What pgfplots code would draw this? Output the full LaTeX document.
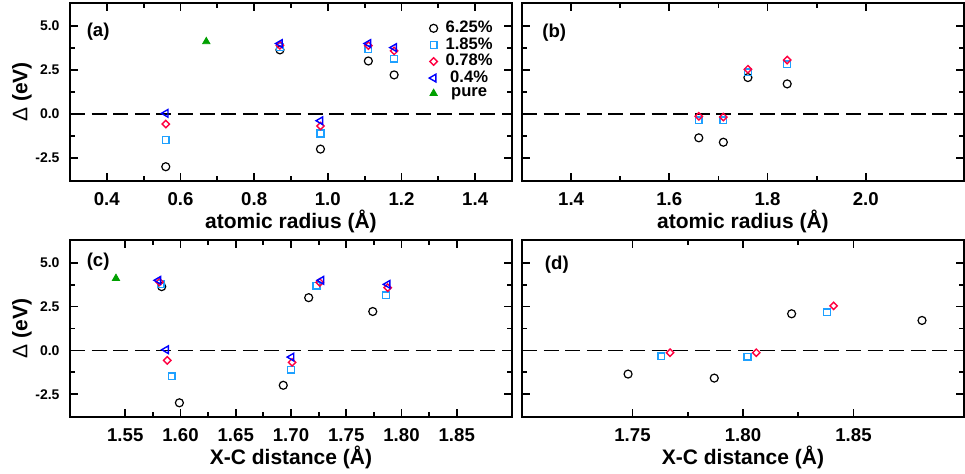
\documentclass[border=0pt]{standalone}
\usepackage{fontspec}
\setmainfont{Liberation Sans}
\usepackage{pgfplots}
\pgfplotsset{compat=1.18}

\definecolor{c185}{RGB}{30,160,255}
\definecolor{c078}{RGB}{255,0,64}
\definecolor{c04}{RGB}{0,0,255}
\definecolor{cpure}{RGB}{0,160,0}

\tikzset{plab/.style={anchor=base west, font=\bfseries\fontsize{9.3}{10}\selectfont}}

\pgfplotsset{
  panel/.style={
    scale only axis, width=221pt, height=89pt,
    axis line style={line width=1pt},
    tick style={black, line width=0.9pt},
    major tick length=4pt, minor tick length=2.5pt,
    tick align=inside,
    ymin=-3.8, ymax=6.3,
    ytick={-2.5,0,2.5,5}, minor y tick num=1,
    /pgf/number format/assume math mode=true,
    /pgf/number format/fixed,
    /pgf/number format/fixed zerofill,
    /pgf/number format/precision=1,
    yticklabel style={font=\bfseries\fontsize{7}{8}\selectfont, xshift=-1.7pt},
    xticklabel style={font=\bfseries\fontsize{9.3}{10}\selectfont, yshift=-2.4pt},
    xlabel style={font=\bfseries\fontsize{10.5}{12}\selectfont,
      at={(axis description cs:0.5,0)}, anchor=base, yshift=-23.5pt},
    ylabel style={font=\bfseries\fontsize{10.5}{12}\selectfont,
      at={(axis description cs:-0.1086,0.5)}, anchor=center},
    legend image code/.code={\draw[mark repeat=2,mark phase=2,#1]
      plot coordinates {(0cm,0cm) (0.15cm,0cm) (0.3cm,0cm)};},
  },
  zero/.style={black, line width=0.9pt, dash pattern=on 7.5pt off 3.3pt, forget plot},
  s625/.style={only marks, mark=o, mark size=2pt, black, line width=0.6pt},
  s185/.style={only marks, mark=square, mark size=1.7pt, c185, line width=0.7pt},
  s078/.style={only marks, mark=square, mark size=1.3pt, c078, line width=0.7pt,
    mark options={rotate=45}},
  s04/.style={only marks, mark=triangle, mark size=2.2pt, c04, line width=0.7pt,
    mark options={rotate=90}},
  spure/.style={only marks, mark=triangle*, mark size=2.1pt, cpure},
}

\begin{document}
\begin{tikzpicture}
\useasboundingbox (0,0) rectangle (482.5pt,236.5pt);

% (a) atomic radius, first group
\begin{axis}[panel, at={(35pt,146pt)}, anchor=south west,
    xmin=0.3, xmax=1.5, xtick={0.4,0.6,...,1.4}, minor x tick num=1,
    xlabel={atomic radius (Å)}, ylabel={{\mdseries Δ} (eV)},
    legend style={draw=none, fill=none, at={(0.964,0.918)}, anchor=north east,
      font=\bfseries\fontsize{8.3}{9}\selectfont, row sep=0pt, column sep=3.5pt,
      inner sep=1pt, nodes={inner sep=0.5pt}}]
\addplot[zero] coordinates {(0.3,0) (1.5,0)};
\addplot[s625] coordinates {(0.56,-2.99) (0.87,3.64) (0.98,-1.99) (1.11,3.01) (1.18,2.22)};
\addplot[s185] coordinates {(0.56,-1.48) (0.87,3.80) (0.98,-1.10) (1.11,3.69) (1.18,3.14)};
\addplot[s078] coordinates {(0.56,-0.57) (0.87,3.90) (0.98,-0.68) (1.11,3.88) (1.18,3.58)};
\addplot[s04] coordinates {(0.56,0.04) (0.87,4.00) (0.98,-0.38) (1.11,4.00) (1.18,3.77)};
\addplot[spure] coordinates {(0.67,4.11)};
\legend{6.25\%, 1.85\%, 0.78\%, 0.4\%, pure}
\node[plab] at (rel axis cs:0.022,0.81) {(a)};
\end{axis}

% (b) atomic radius, second group
\begin{axis}[panel, at={(261pt,146pt)}, anchor=south west,
    xmin=1.3, xmax=2.2, xtick={1.4,1.6,...,2.0}, minor x tick num=1,
    yticklabels={}, xlabel={atomic radius (Å)}]
\addplot[zero] coordinates {(1.3,0) (2.2,0)};
\addplot[s625] coordinates {(1.66,-1.35) (1.71,-1.60) (1.76,2.07) (1.84,1.71)};
\addplot[s185] coordinates {(1.66,-0.36) (1.71,-0.36) (1.76,2.37) (1.84,2.82)};
\addplot[s078] coordinates {(1.66,-0.13) (1.71,-0.17) (1.76,2.54) (1.84,3.06)};
\node[plab] at (rel axis cs:0.03,0.807) {(b)};
\end{axis}

% (c) X-C distance, first group
\begin{axis}[panel, at={(35pt,28pt)}, anchor=south west, height=88.5pt,
    xmin=1.5, xmax=1.9, xtick={1.55,1.60,...,1.86}, minor x tick num=1,
    xticklabel style={/pgf/number format/precision=2},
    xlabel={X-C distance (Å)}, ylabel={{\mdseries Δ} (eV)}]
\addplot[zero] coordinates {(1.5,0) (1.9,0)};
\addplot[s625] coordinates {(1.583,3.64) (1.599,-2.99) (1.693,-1.99) (1.716,3.01) (1.774,2.22)};
\addplot[s185] coordinates {(1.582,3.80) (1.592,-1.48) (1.700,-1.10) (1.723,3.69) (1.786,3.14)};
\addplot[s078] coordinates {(1.581,3.90) (1.588,-0.57) (1.701,-0.68) (1.726,3.88) (1.7875,3.58)};
\addplot[s04] coordinates {(1.580,4.00) (1.587,0.04) (1.7005,-0.38) (1.7275,4.00) (1.7875,3.77)};
\addplot[spure] coordinates {(1.5416,4.11)};
\node[plab] at (rel axis cs:0.022,0.849) {(c)};
\end{axis}

% (d) X-C distance, second group
\begin{axis}[panel, at={(261pt,28pt)}, anchor=south west, height=88.5pt,
    xmin=1.7, xmax=1.9, xtick={1.75,1.80,1.85}, minor x tick num=1,
    xticklabel style={/pgf/number format/precision=2},
    yticklabels={}, xlabel={X-C distance (Å)}]
\addplot[zero] coordinates {(1.7,0) (1.9,0)};
\addplot[s625] coordinates {(1.748,-1.35) (1.787,-1.58) (1.822,2.09) (1.881,1.71)};
\addplot[s185] coordinates {(1.763,-0.34) (1.802,-0.36) (1.838,2.18)};
\addplot[s078] coordinates {(1.767,-0.13) (1.806,-0.13) (1.841,2.54)};
\node[plab] at (rel axis cs:0.036,0.836) {(d)};
\end{axis}
\end{tikzpicture}
\end{document}
